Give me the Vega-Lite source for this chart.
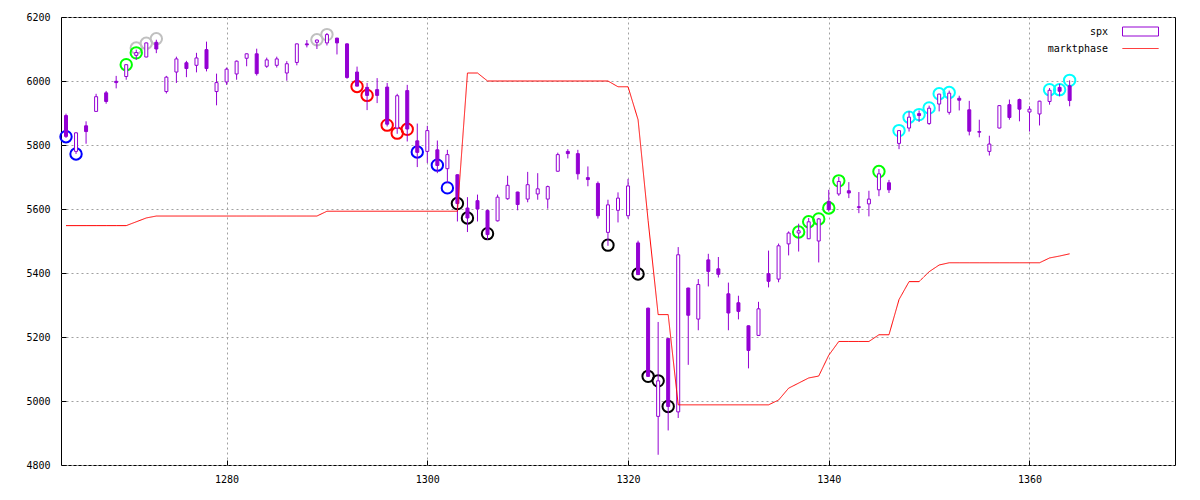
{
  "$schema": "https://vega.github.io/schema/vega-lite/v6.json",
  "autosize": {"type": "none"},
  "width": 1114,
  "height": 448,
  "padding": {"left": 61, "top": 17, "right": 25, "bottom": 35},
  "background": "white",
  "config": {
    "font": "DejaVu Sans Mono",
    "view": {"stroke": "black", "strokeWidth": 1},
    "axis": {
      "labelFont": "DejaVu Sans Mono",
      "labelFontSize": 10,
      "labelColor": "black",
      "grid": true,
      "gridColor": "#a0a0a0",
      "gridDash": [2, 3],
      "gridWidth": 1,
      "domain": false,
      "tickColor": "black",
      "tickSize": -5,
      "title": null
    }
  },
  "datasets": {
    "candles": [
      {"t": 1264, "o": 5892, "h": 5898, "l": 5822, "c": 5827},
      {"t": 1265, "o": 5780, "h": 5840, "l": 5772, "c": 5838},
      {"t": 1266, "o": 5860, "h": 5874, "l": 5804, "c": 5842},
      {"t": 1267, "o": 5905, "h": 5960, "l": 5905, "c": 5951},
      {"t": 1268, "o": 5963, "h": 5969, "l": 5929, "c": 5936},
      {"t": 1269, "o": 5999, "h": 6016, "l": 5977, "c": 5995},
      {"t": 1270, "o": 6014, "h": 6052, "l": 6004, "c": 6051},
      {"t": 1271, "o": 6080, "h": 6098, "l": 6066, "c": 6089},
      {"t": 1272, "o": 6075, "h": 6120, "l": 6074, "c": 6119},
      {"t": 1273, "o": 6121, "h": 6129, "l": 6087, "c": 6100},
      {"t": 1274, "o": 5967, "h": 6016, "l": 5961, "c": 6012},
      {"t": 1275, "o": 6028, "h": 6076, "l": 5994, "c": 6069},
      {"t": 1276, "o": 6057, "h": 6063, "l": 6012, "c": 6039},
      {"t": 1277, "o": 6049, "h": 6088, "l": 6027, "c": 6072},
      {"t": 1278, "o": 6098, "h": 6123, "l": 6030, "c": 6039},
      {"t": 1279, "o": 5967, "h": 6023, "l": 5924, "c": 5995},
      {"t": 1280, "o": 5997, "h": 6042, "l": 5988, "c": 6037},
      {"t": 1281, "o": 6022, "h": 6064, "l": 6004, "c": 6062},
      {"t": 1282, "o": 6071, "h": 6086, "l": 6046, "c": 6085},
      {"t": 1283, "o": 6085, "h": 6101, "l": 6017, "c": 6023},
      {"t": 1284, "o": 6046, "h": 6073, "l": 6041, "c": 6066},
      {"t": 1285, "o": 6049, "h": 6076, "l": 6042, "c": 6069},
      {"t": 1286, "o": 6025, "h": 6062, "l": 6001, "c": 6054},
      {"t": 1287, "o": 6058, "h": 6117, "l": 6049, "c": 6116},
      {"t": 1288, "o": 6116, "h": 6128, "l": 6105, "c": 6113},
      {"t": 1289, "o": 6121, "h": 6129, "l": 6100, "c": 6128},
      {"t": 1290, "o": 6119, "h": 6150, "l": 6111, "c": 6145},
      {"t": 1291, "o": 6134, "h": 6135, "l": 6083, "c": 6119},
      {"t": 1292, "o": 6116, "h": 6118, "l": 6007, "c": 6011},
      {"t": 1293, "o": 6028, "h": 6045, "l": 5983, "c": 5984},
      {"t": 1294, "o": 5980, "h": 5994, "l": 5909, "c": 5955},
      {"t": 1295, "o": 5973, "h": 6009, "l": 5931, "c": 5955},
      {"t": 1296, "o": 5981, "h": 5994, "l": 5858, "c": 5865},
      {"t": 1297, "o": 5853, "h": 5960, "l": 5835, "c": 5954},
      {"t": 1298, "o": 5970, "h": 5988, "l": 5811, "c": 5850},
      {"t": 1299, "o": 5813, "h": 5867, "l": 5731, "c": 5777},
      {"t": 1300, "o": 5780, "h": 5860, "l": 5744, "c": 5845},
      {"t": 1301, "o": 5785, "h": 5814, "l": 5712, "c": 5736},
      {"t": 1302, "o": 5726, "h": 5785, "l": 5681, "c": 5770},
      {"t": 1303, "o": 5707, "h": 5708, "l": 5561, "c": 5617},
      {"t": 1304, "o": 5603, "h": 5637, "l": 5528, "c": 5572},
      {"t": 1305, "o": 5626, "h": 5645, "l": 5561, "c": 5600},
      {"t": 1306, "o": 5595, "h": 5598, "l": 5504, "c": 5520},
      {"t": 1307, "o": 5563, "h": 5645, "l": 5561, "c": 5637},
      {"t": 1308, "o": 5632, "h": 5704, "l": 5629, "c": 5674},
      {"t": 1309, "o": 5653, "h": 5654, "l": 5596, "c": 5614},
      {"t": 1310, "o": 5631, "h": 5716, "l": 5621, "c": 5676},
      {"t": 1311, "o": 5647, "h": 5712, "l": 5629, "c": 5663},
      {"t": 1312, "o": 5631, "h": 5673, "l": 5601, "c": 5670},
      {"t": 1313, "o": 5718, "h": 5776, "l": 5717, "c": 5770},
      {"t": 1314, "o": 5780, "h": 5787, "l": 5758, "c": 5773},
      {"t": 1315, "o": 5773, "h": 5785, "l": 5692, "c": 5710},
      {"t": 1316, "o": 5698, "h": 5733, "l": 5671, "c": 5692},
      {"t": 1317, "o": 5680, "h": 5686, "l": 5570, "c": 5579},
      {"t": 1318, "o": 5527, "h": 5629, "l": 5485, "c": 5613},
      {"t": 1319, "o": 5596, "h": 5652, "l": 5558, "c": 5634},
      {"t": 1320, "o": 5579, "h": 5694, "l": 5570, "c": 5672},
      {"t": 1321, "o": 5494, "h": 5501, "l": 5394, "c": 5395},
      {"t": 1322, "o": 5290, "h": 5292, "l": 5075, "c": 5077},
      {"t": 1323, "o": 4952, "h": 5247, "l": 4832, "c": 5063},
      {"t": 1324, "o": 5195, "h": 5196, "l": 4908, "c": 4983},
      {"t": 1325, "o": 4966, "h": 5481, "l": 4947, "c": 5457},
      {"t": 1326, "o": 5353, "h": 5354, "l": 5113, "c": 5268},
      {"t": 1327, "o": 5256, "h": 5381, "l": 5221, "c": 5364},
      {"t": 1328, "o": 5441, "h": 5460, "l": 5358, "c": 5405},
      {"t": 1329, "o": 5413, "h": 5450, "l": 5386, "c": 5396},
      {"t": 1330, "o": 5335, "h": 5370, "l": 5221, "c": 5275},
      {"t": 1331, "o": 5307, "h": 5329, "l": 5255, "c": 5280},
      {"t": 1332, "o": 5235, "h": 5236, "l": 5102, "c": 5158},
      {"t": 1333, "o": 5205, "h": 5310, "l": 5204, "c": 5288},
      {"t": 1334, "o": 5398, "h": 5470, "l": 5355, "c": 5374},
      {"t": 1335, "o": 5381, "h": 5492, "l": 5371, "c": 5485},
      {"t": 1336, "o": 5491, "h": 5530, "l": 5455, "c": 5525},
      {"t": 1337, "o": 5525, "h": 5554, "l": 5467, "c": 5532},
      {"t": 1338, "o": 5507, "h": 5572, "l": 5506, "c": 5560},
      {"t": 1339, "o": 5500, "h": 5572, "l": 5433, "c": 5569},
      {"t": 1340, "o": 5624, "h": 5660, "l": 5592, "c": 5598},
      {"t": 1341, "o": 5647, "h": 5700, "l": 5641, "c": 5686},
      {"t": 1342, "o": 5657, "h": 5684, "l": 5634, "c": 5650},
      {"t": 1343, "o": 5607, "h": 5653, "l": 5587, "c": 5605},
      {"t": 1344, "o": 5616, "h": 5657, "l": 5577, "c": 5631},
      {"t": 1345, "o": 5660, "h": 5725, "l": 5640, "c": 5710},
      {"t": 1346, "o": 5682, "h": 5691, "l": 5650, "c": 5660},
      {"t": 1347, "o": 5805, "h": 5846, "l": 5787, "c": 5845},
      {"t": 1348, "o": 5853, "h": 5905, "l": 5842, "c": 5887},
      {"t": 1349, "o": 5898, "h": 5908, "l": 5872, "c": 5892},
      {"t": 1350, "o": 5867, "h": 5923, "l": 5863, "c": 5915},
      {"t": 1351, "o": 5928, "h": 5960, "l": 5905, "c": 5959},
      {"t": 1352, "o": 5902, "h": 5970, "l": 5895, "c": 5962},
      {"t": 1353, "o": 5946, "h": 5954, "l": 5908, "c": 5940},
      {"t": 1354, "o": 5910, "h": 5938, "l": 5830, "c": 5843},
      {"t": 1355, "o": 5842, "h": 5879, "l": 5824, "c": 5840},
      {"t": 1356, "o": 5780, "h": 5829, "l": 5767, "c": 5803},
      {"t": 1357, "o": 5853, "h": 5925, "l": 5852, "c": 5923},
      {"t": 1358, "o": 5926, "h": 5942, "l": 5879, "c": 5886},
      {"t": 1359, "o": 5942, "h": 5945, "l": 5874, "c": 5912},
      {"t": 1360, "o": 5903, "h": 5921, "l": 5842, "c": 5912},
      {"t": 1361, "o": 5897, "h": 5938, "l": 5861, "c": 5937},
      {"t": 1362, "o": 5936, "h": 5978, "l": 5926, "c": 5971},
      {"t": 1363, "o": 5980, "h": 5991, "l": 5952, "c": 5968},
      {"t": 1364, "o": 5985, "h": 6002, "l": 5921, "c": 5939}
    ],
    "signals": [
      {"t": 1271, "v": 6103, "s": "gray"},
      {"t": 1272, "v": 6118, "s": "gray"},
      {"t": 1273, "v": 6132, "s": "gray"},
      {"t": 1289, "v": 6129, "s": "gray"},
      {"t": 1290, "v": 6145, "s": "gray"},
      {"t": 1270, "v": 6051, "s": "green"},
      {"t": 1271, "v": 6088, "s": "green"},
      {"t": 1337, "v": 5528, "s": "green"},
      {"t": 1338, "v": 5560, "s": "green"},
      {"t": 1339, "v": 5569, "s": "green"},
      {"t": 1340, "v": 5603, "s": "green"},
      {"t": 1341, "v": 5688, "s": "green"},
      {"t": 1345, "v": 5717, "s": "green"},
      {"t": 1264, "v": 5826, "s": "blue"},
      {"t": 1265, "v": 5772, "s": "blue"},
      {"t": 1299, "v": 5778, "s": "blue"},
      {"t": 1301, "v": 5737, "s": "blue"},
      {"t": 1302, "v": 5666, "s": "blue"},
      {"t": 1293, "v": 5983, "s": "red"},
      {"t": 1294, "v": 5955, "s": "red"},
      {"t": 1296, "v": 5862, "s": "red"},
      {"t": 1297, "v": 5837, "s": "red"},
      {"t": 1298, "v": 5849, "s": "red"},
      {"t": 1303, "v": 5617, "s": "black"},
      {"t": 1304, "v": 5572, "s": "black"},
      {"t": 1306, "v": 5523, "s": "black"},
      {"t": 1318, "v": 5487, "s": "black"},
      {"t": 1321, "v": 5397, "s": "black"},
      {"t": 1322, "v": 5077, "s": "black"},
      {"t": 1323, "v": 5063, "s": "black"},
      {"t": 1324, "v": 4983, "s": "black"},
      {"t": 1347, "v": 5845, "s": "cyan"},
      {"t": 1348, "v": 5887, "s": "cyan"},
      {"t": 1349, "v": 5895, "s": "cyan"},
      {"t": 1350, "v": 5916, "s": "cyan"},
      {"t": 1351, "v": 5960, "s": "cyan"},
      {"t": 1352, "v": 5964, "s": "cyan"},
      {"t": 1362, "v": 5973, "s": "cyan"},
      {"t": 1363, "v": 5973, "s": "cyan"},
      {"t": 1364, "v": 6002, "s": "cyan"}
    ],
    "phase": [
      {"t": 1264, "v": 5548}, {"t": 1265, "v": 5548}, {"t": 1266, "v": 5548},
      {"t": 1267, "v": 5548}, {"t": 1268, "v": 5548}, {"t": 1269, "v": 5548},
      {"t": 1270, "v": 5548}, {"t": 1271, "v": 5560}, {"t": 1272, "v": 5572},
      {"t": 1273, "v": 5578}, {"t": 1274, "v": 5578}, {"t": 1275, "v": 5578},
      {"t": 1276, "v": 5578}, {"t": 1277, "v": 5578}, {"t": 1278, "v": 5578},
      {"t": 1279, "v": 5578}, {"t": 1280, "v": 5578}, {"t": 1281, "v": 5578},
      {"t": 1282, "v": 5578}, {"t": 1283, "v": 5578}, {"t": 1284, "v": 5578},
      {"t": 1285, "v": 5578}, {"t": 1286, "v": 5578}, {"t": 1287, "v": 5578},
      {"t": 1288, "v": 5578}, {"t": 1289, "v": 5578}, {"t": 1290, "v": 5593},
      {"t": 1291, "v": 5593}, {"t": 1292, "v": 5593}, {"t": 1293, "v": 5593},
      {"t": 1294, "v": 5593}, {"t": 1295, "v": 5593}, {"t": 1296, "v": 5593},
      {"t": 1297, "v": 5593}, {"t": 1298, "v": 5593}, {"t": 1299, "v": 5593},
      {"t": 1300, "v": 5593}, {"t": 1301, "v": 5593}, {"t": 1302, "v": 5593},
      {"t": 1303, "v": 5593}, {"t": 1304, "v": 6025}, {"t": 1305, "v": 6025},
      {"t": 1306, "v": 6000}, {"t": 1307, "v": 6000}, {"t": 1308, "v": 6000},
      {"t": 1309, "v": 6000}, {"t": 1310, "v": 6000}, {"t": 1311, "v": 6000},
      {"t": 1312, "v": 6000}, {"t": 1313, "v": 6000}, {"t": 1314, "v": 6000},
      {"t": 1315, "v": 6000}, {"t": 1316, "v": 6000}, {"t": 1317, "v": 6000},
      {"t": 1318, "v": 6000}, {"t": 1319, "v": 5982}, {"t": 1320, "v": 5982},
      {"t": 1321, "v": 5879}, {"t": 1322, "v": 5564}, {"t": 1323, "v": 5270},
      {"t": 1324, "v": 5270}, {"t": 1325, "v": 4988}, {"t": 1326, "v": 4988},
      {"t": 1327, "v": 4988}, {"t": 1328, "v": 4988}, {"t": 1329, "v": 4988},
      {"t": 1330, "v": 4988}, {"t": 1331, "v": 4988}, {"t": 1332, "v": 4988},
      {"t": 1333, "v": 4988}, {"t": 1334, "v": 4988}, {"t": 1335, "v": 5003},
      {"t": 1336, "v": 5040}, {"t": 1337, "v": 5056}, {"t": 1338, "v": 5072},
      {"t": 1339, "v": 5078}, {"t": 1340, "v": 5143}, {"t": 1341, "v": 5186},
      {"t": 1342, "v": 5186}, {"t": 1343, "v": 5186}, {"t": 1344, "v": 5186},
      {"t": 1345, "v": 5207}, {"t": 1346, "v": 5207}, {"t": 1347, "v": 5317},
      {"t": 1348, "v": 5373}, {"t": 1349, "v": 5373}, {"t": 1350, "v": 5404},
      {"t": 1351, "v": 5425}, {"t": 1352, "v": 5432}, {"t": 1353, "v": 5432},
      {"t": 1354, "v": 5432}, {"t": 1355, "v": 5432}, {"t": 1356, "v": 5432},
      {"t": 1357, "v": 5432}, {"t": 1358, "v": 5432}, {"t": 1359, "v": 5432},
      {"t": 1360, "v": 5432}, {"t": 1361, "v": 5432}, {"t": 1362, "v": 5447},
      {"t": 1363, "v": 5453}, {"t": 1364, "v": 5460}
    ]
  },
  "encoding": {
    "x": {
      "field": "t", "type": "quantitative",
      "scale": {"domain": [1264, 1374], "nice": false, "zero": false},
      "axis": {"values": [1280, 1300, 1320, 1340, 1360], "format": "d", "labelPadding": 14}
    }
  },
  "layer": [
    {
      "data": {"name": "signals"},
      "mark": {"type": "point", "shape": "circle", "filled": false, "size": 130, "strokeWidth": 2, "opacity": 1},
      "encoding": {
        "y": {"field": "v", "type": "quantitative",
              "scale": {"domain": [4800, 6200], "nice": false, "zero": false},
              "axis": {"values": [4800, 5000, 5200, 5400, 5600, 5800, 6000, 6200], "format": "d", "labelPadding": 16}},
        "color": {"field": "s", "type": "nominal",
                  "scale": {"domain": ["gray", "green", "blue", "red", "black", "cyan"],
                            "range": ["#c0c0c0", "#00ff00", "#0000ff", "#ff0000", "#000000", "#00ffff"]},
                  "legend": null}
      }
    },
    {
      "data": {"name": "candles"},
      "mark": {"type": "rule", "strokeWidth": 1},
      "encoding": {
        "y": {"field": "l", "type": "quantitative"},
        "y2": {"field": "h"},
        "stroke": {
          "datum": "spx", "type": "nominal",
          "scale": {"domain": ["spx"], "range": ["#9400d3"]},
          "legend": {
            "title": null,
            "orient": "none",
            "legendX": 1061,
            "legendY": -4,
            "padding": 0,
            "symbolType": "M-1,-0.25H1V0.25H-1Z",
            "symbolSize": 1296,
            "symbolStrokeWidth": 1,
            "symbolFillColor": "white",
            "labelAlign": "right",
            "labelOffset": -51,
            "labelFont": "DejaVu Sans Mono",
            "labelFontSize": 10,
            "labelColor": "black"
          }
        }
      }
    },
    {
      "data": {"name": "candles"},
      "mark": {"type": "bar", "size": 3, "strokeWidth": 1, "stroke": "#9400d3"},
      "encoding": {
        "y": {"field": "o", "type": "quantitative"},
        "y2": {"field": "c"},
        "fill": {"condition": {"test": "datum.c > datum.o", "value": "white"}, "value": "#9400d3"}
      }
    },
    {
      "data": {"name": "phase"},
      "mark": {"type": "line", "strokeWidth": 1, "color": "#ff0000"},
      "encoding": {
        "y": {"field": "v", "type": "quantitative"},
        "strokeDash": {
          "datum": "marktphase", "type": "nominal",
          "scale": {"domain": ["marktphase"], "range": [[1, 0]]},
          "legend": {
            "title": null,
            "orient": "none",
            "legendX": 1061,
            "legendY": 13,
            "padding": 0,
            "symbolType": "stroke",
            "symbolSize": 1296,
            "symbolStrokeWidth": 1,
            "symbolStrokeColor": "#ff0000",
            "labelAlign": "right",
            "labelOffset": -51,
            "labelFont": "DejaVu Sans Mono",
            "labelFontSize": 10,
            "labelColor": "black"
          }
        }
      }
    }
  ]
}
